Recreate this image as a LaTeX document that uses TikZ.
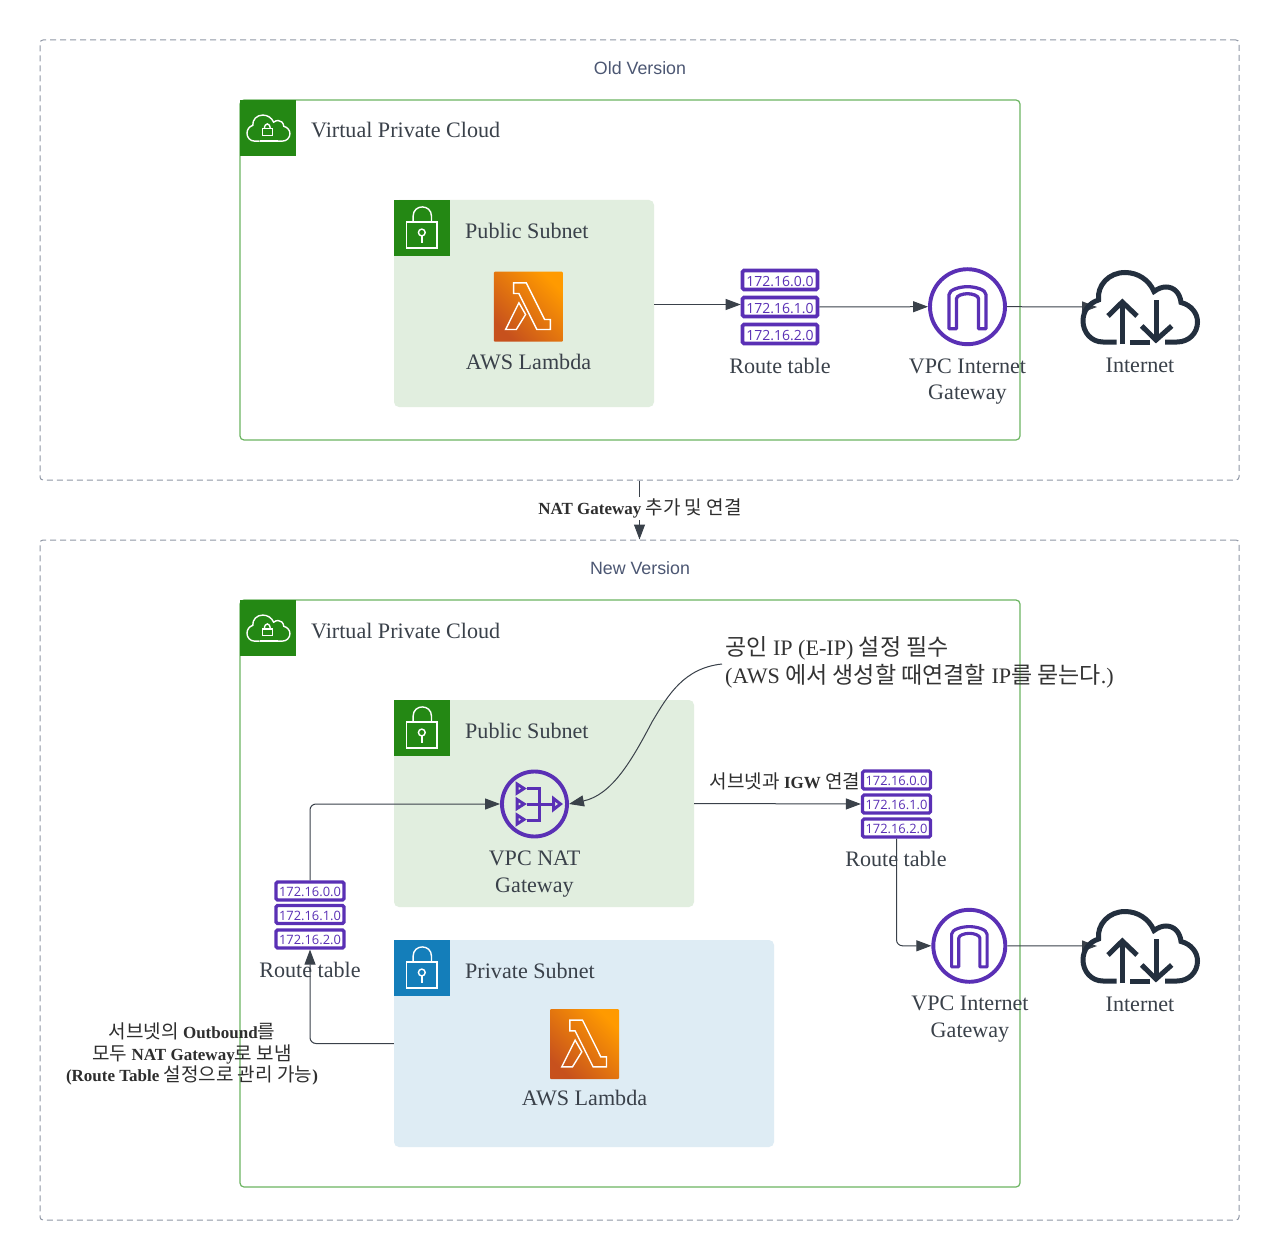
\documentclass[tikz,border=0pt]{standalone}
\usepackage{fontspec}
\setmainfont{Liberation Serif}
\setsansfont{Liberation Sans}
\newfontfamily\cjk[Scale=1.12]{Noto Sans CJK KR}
\newfontfamily\cjkwide[Scale=1.04]{Noto Sans CJK KR}
\newfontfamily\opensans{Open Sans}
\usetikzlibrary{arrows.meta}
\newcommand{\ko}[1]{{\cjk #1}}
\newcommand{\kob}[1]{{\cjkwide #1}}
\definecolor{awsgreen}{HTML}{248814}
\definecolor{awsblue}{HTML}{147EBA}
\definecolor{vpcline}{HTML}{6CB562}
\definecolor{pubfill}{HTML}{E1EEDF}
\definecolor{prvfill}{HTML}{DEECF4}
\definecolor{purpl}{HTML}{5A30B5}
\definecolor{darkcloud}{HTML}{232F3E}
\definecolor{inktext}{HTML}{3A414A}
\definecolor{linec}{HTML}{3A414A}
\definecolor{framec}{HTML}{8F97A5}
\definecolor{titlec}{HTML}{4C5773}
\definecolor{lamA}{HTML}{C7511D}
\definecolor{lamB}{HTML}{FF9A00}
\tikzset{
  x=1pt,y=-1pt,
  framebox/.style={draw=framec,line width=1,dash pattern=on 6pt off 4pt,rounded corners=3,inner sep=0,minimum width=1199,minimum height=#1},
  frametitle/.style={font=\sffamily\fontsize{17.8}{20}\selectfont,text=titlec,inner sep=0},
  vpcbox/.style={draw=vpcline,line width=1.2,rounded corners=4,inner sep=0,minimum width=780,minimum height=#1},
  subnet/.style={rounded corners=5,inner sep=0,minimum width=#1,minimum height=207},
  tagsq/.style={inner sep=0,minimum size=56,fill=#1},
  lbl/.style={font=\fontsize{22.1}{26.4}\selectfont,text=inktext,inner sep=0,align=center},
  lblw/.style={lbl,anchor=west},
  small/.style={font=\fontsize{17}{21.5}\selectfont,text=black!82,inner sep=0,align=center},
  rtbig/.style={draw=purpl,fill=white,line width=3.6,rounded corners=1.5,inner sep=0,minimum width=75,minimum height=19,text=purpl,text height=12,text depth=0,font=\opensans\fontsize{14}{15}\selectfont},
  rtsmall/.style={draw=purpl,fill=white,line width=3.2,rounded corners=1.5,inner sep=0,minimum width=68,minimum height=18,text=purpl,text height=11,text depth=0,font=\opensans\fontsize{12.9}{14}\selectfont},
  gw/.style={circle,draw=#1,line width=3.9,inner sep=0},
  lambdabox/.style={inner sep=0,minimum width=69,minimum height=70,rounded corners=1,bottom color=lamA,top color=lamB,shading angle=-45},
  conn/.style={draw=linec,line width=1,-{Triangle[length=15pt,width=11pt]}},
  pics/cloudshape/.style={code={
    \path[pic actions] (-23.3,35) -- (-37,35) .. controls (-49,35) and (-57,25) .. (-57,14)
      .. controls (-57,4) and (-51,-4) .. (-41.5,-7)
      .. controls (-43,-22) and (-31,-34.5) .. (-15,-34.5)
      .. controls (-2,-34.5) and (9,-27) .. (14,-15.5)
      .. controls (18,-18.5) and (22,-20) .. (26,-20)
      .. controls (34,-20) and (40,-14) .. (41,-4.5)
      .. controls (51,-2) and (57.5,6) .. (57.5,15)
      .. controls (57.5,26) and (49,35) .. (37,35) -- (25,35);
  }},
  pics/cloudbase/.style={code={
    \path[pic actions] (25,35) -- (-23.3,35);
  }},
  pics/netextras/.style={code={
    \path[pic actions] (-10,35) -- (10,35);
    \path[pic actions] (-17.7,37) -- (-17.7,-5);
    \path[pic actions] (-32,9) -- (-17.7,-5) -- (-3,9);
    \path[pic actions] (16,-7) -- (16,33);
    \path[pic actions] (1.7,19) -- (16,33) -- (31.7,19);
  }},
  pics/padlock/.style={code={
    \path[pic actions] (12.7,22.3) rectangle (43.3,48.3);
    \path[pic actions] (19.3,22.3) -- (19.3,16.5) .. controls (19.3,4) and (37.7,4) .. (37.7,16.5) -- (37.7,22.3);
    \path[pic actions] (28,32.7) circle (3.4);
    \path[pic actions] (28,36.1) -- (28,43.5);
  }},
  pics/vpclock/.style={code={
    \path[pic actions] (22.5,29) rectangle (32.5,35.5);
    \path[pic actions] (24.6,29) .. controls (24.6,22.5) and (30.4,22.5) .. (30.4,29);
  }},
  pics/lambdaglyph/.style={code={
    \path[pic actions] (20,11.3) -- (32.7,11.3) -- (51,48) -- (56.7,48) -- (56.7,58) -- (43.3,58) -- (25.3,22) -- (20,22) -- cycle;
    \path[pic actions] (25.3,31.3) -- (32,43) -- (22.7,58) -- (12,58) -- cycle;
  }},
  pics/arch/.style={code={
    \path[pic actions] (-18.5,22) -- (-18.5,-12) .. controls (-18.5,-17) and (-8,-20) .. (0,-20) .. controls (8,-20) and (18.5,-17) .. (18.5,-12) -- (18.5,22) -- (11,22) -- (11,-8) .. controls (11,-11) and (5,-13) .. (0,-13) .. controls (-5,-13) and (-11,-11) .. (-11,-8) -- (-11,22) -- cycle;
  }},
  pics/natglyph/.style={code={
    \path[pic actions] (-17.5,-20) -- (-10.5,-15.5) -- (-17.5,-11) -- cycle;
    \path[pic actions] (-17.5,-4.5) -- (-10.5,0) -- (-17.5,4.5) -- cycle;
    \path[pic actions] (-17.5,11) -- (-10.5,15.5) -- (-17.5,20) -- cycle;
    \path[pic actions] (-7.5,-15.5) -- (4.5,-15.5) -- (4.5,16) -- (-7.5,16);
    \path[pic actions] (-8,0) -- (19,0);
    \path[pic actions] (19,-5.5) -- (26,0) -- (19,5.5) -- cycle;
  }},
}
\begin{document}
\begin{tikzpicture}
\useasboundingbox (0,0) rectangle (1280,1260);
\fill[white] (0,0) rectangle (1280,1260);

% frames
\node[framebox=440] (oldf) at (639.5,260) {};
\node[framebox=680] (newf) at (639.5,880) {};
\node[frametitle] (oldt) at (640,68) {Old Version};
\node[frametitle] (newt) at (640,568) {New Version};

% ---------- top VPC
\node[vpcbox=340] (vpc1) at (630,270) {};
\node[tagsq=awsgreen] (vpc1i) at (268,128) {};
\pic[draw=white,line width=1.4,scale=.375,xshift=1] at (vpc1i) {cloudshape};
\pic[draw=white,line width=1.4,scale=.375,xshift=1] at (vpc1i) {cloudbase};
\pic[draw=white,line width=1.4] at (vpc1i.north west) {vpclock};
\node[lblw] (vpc1l) at (311,130.5) {Virtual Private Cloud};

\node[subnet=260,fill=pubfill] (pub1) at (524,303.5) {};
\node[tagsq=awsgreen] (pub1i) at (422,228) {};
\pic[draw=white,line width=1.4] at (pub1i.north west) {padlock};
\node[lblw] (pub1l) at (465,230.5) {Public Subnet};
\node[lambdabox] (lam1) at (528.3,306.7) {};
\pic[draw=white,line width=1.4] at (lam1.north west) {lambdaglyph};
\node[lbl] (lam1l) at (528.5,362) {AWS Lambda};

\node[rtbig] (rt1a) at (780,280) {172.16.0.0};
\node[rtbig] (rt1b) at (780,307) {172.16.1.0};
\node[rtbig] (rt1c) at (780,334) {172.16.2.0};
\node[lbl] (rt1l) at (780,366) {Route table};

\node[gw=purpl,minimum size=75] (igw1) at (967.5,306.7) {};
\pic[draw=purpl,line width=3.3,line join=round] at (igw1) {arch};
\node[lbl] (igw1l) at (967.5,381.5) {VPC Internet\\Gateway};

\node[inner sep=0,minimum width=119,minimum height=75] (net1) at (1140,307) {};
\node[lbl] (net1l) at (1140,365) {Internet};

\draw[conn] ([yshift=-1pt]pub1.east) -- ([yshift=-1pt]pub1.east -| rt1b.west);
\draw[conn] (rt1b.east) -- (igw1.west);
\coordinate (net1in) at (1097,307);
\draw[conn] (igw1.east) -- (net1in);
\pic[draw=darkcloud,line width=5] at (net1) {cloudshape};
\pic[draw=darkcloud,line width=5] at (net1) {netextras};

% ---------- link between versions
\draw[conn] (oldf.south) -- (newf.north);
\node[small,fill=white,inner ysep=1.5,inner xsep=0] (addl) at (640,508.5) {\textbf{NAT Gateway} \ko{추가 및 연결}};

% ---------- bottom VPC
\node[vpcbox=587] (vpc2) at (630,893.5) {};
\node[tagsq=awsgreen] (vpc2i) at (268,628) {};
\pic[draw=white,line width=1.4,scale=.375,xshift=1] at (vpc2i) {cloudshape};
\pic[draw=white,line width=1.4,scale=.375,xshift=1] at (vpc2i) {cloudbase};
\pic[draw=white,line width=1.4] at (vpc2i.north west) {vpclock};
\node[lblw] (vpc2l) at (311,630.5) {Virtual Private Cloud};

\node[subnet=300,fill=pubfill] (pub2) at (544,803.5) {};
\node[tagsq=awsgreen] (pub2i) at (422,728) {};
\pic[draw=white,line width=1.4] at (pub2i.north west) {padlock};
\node[lblw] (pub2l) at (465,730.5) {Public Subnet};

\node[gw=purpl,minimum size=65] (nat) at (534.5,804) {};
\pic[draw=purpl,line width=3] at (nat) {natglyph};
\node[lbl] (natl) at (534.5,874) {VPC NAT\\Gateway};

\node[subnet=380,fill=prvfill] (prv) at (584,1043.5) {};
\node[tagsq=awsblue] (prvi) at (422,968) {};
\pic[draw=white,line width=1.4] at (prvi.north west) {padlock};
\node[lblw] (prvl) at (465,970.5) {Private Subnet};
\node[lambdabox] (lam2) at (584.5,1044) {};
\pic[draw=white,line width=1.4] at (lam2.north west) {lambdaglyph};
\node[lbl] (lam2l) at (584.5,1098) {AWS Lambda};

\node[rtsmall] (rt3a) at (310,891) {172.16.0.0};
\node[rtsmall] (rt3b) at (310,914.5) {172.16.1.0};
\node[rtsmall] (rt3c) at (310,939) {172.16.2.0};
\node[lbl] (rt3l) at (310,970) {Route table};

\node[rtsmall] (rt2a) at (896.5,780) {172.16.0.0};
\node[rtsmall] (rt2b) at (896.5,804) {172.16.1.0};
\node[rtsmall] (rt2c) at (896.5,828) {172.16.2.0};
\node[lbl] (rt2l) at (896,859) {Route table};

\node[gw=purpl,minimum size=72] (igw2) at (969.3,945.8) {};
\pic[draw=purpl,line width=3.1,line join=round,scale=.96] at (igw2) {arch};
\node[lbl] (igw2l) at (970,1019) {VPC Internet\\Gateway};

\node[inner sep=0,minimum width=119,minimum height=75] (net2) at (1140,946) {};
\node[lbl] (net2l) at (1140,1004) {Internet};

\node[small,anchor=south] (igwl) at (785,790) {\ko{서브넷과} \textbf{IGW} \ko{연결}};
\node[lbl,anchor=west,align=left,text=black!80,font=\fontsize{22.1}{28}\selectfont] (eipl) at (725,662) {\kob{공인} IP (E-IP) \kob{설정 필수}\\(AWS \kob{에서 생성할 때연결할} IP\kob{를 묻는다}.)};
\node[small] (outl) at (192,1054) {\ko{서브넷의} \textbf{Outbound}\ko{를}\\\ko{모두} \textbf{NAT Gateway}\ko{로 보냄}\\\textbf{(Route Table} \ko{설정으로 관리 가능}\textbf{)}};

\draw[conn,rounded corners=6] (prv.west) -| (rt3c.south);
\draw[conn,rounded corners=6] (rt3a.north) |- (nat.west);
\draw[conn] (pub2.east) -- (rt2b.west);
\draw[conn,rounded corners=6] (rt2c.south) |- (igw2.west);
\coordinate (net2in) at (1097,946);
\draw[conn] (igw2.east) -- (net2in);
\pic[draw=darkcloud,line width=5] at (net2) {cloudshape};
\pic[draw=darkcloud,line width=5] at (net2) {netextras};
\coordinate (eipc) at (722,664);
\draw[conn] (eipc) .. controls (684,668) and (668,695) .. (652,722) .. controls (632,760) and (612,795) .. (nat.east);
\end{tikzpicture}
\end{document}
